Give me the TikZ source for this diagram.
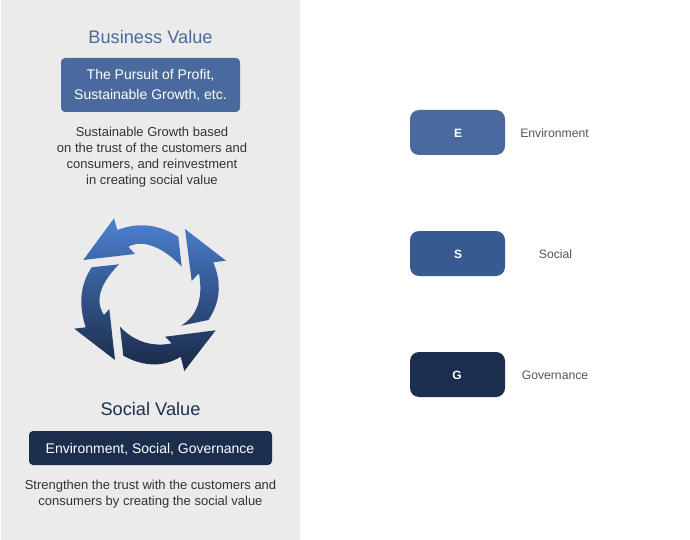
\documentclass[tikz,border=0pt]{standalone}
\usepackage{fontspec}
\setmainfont{Liberation Sans}
\definecolor{panel}{HTML}{EBEBEB}
\definecolor{bizblue}{HTML}{4A6A9D}
\definecolor{socblue}{HTML}{375A90}
\definecolor{navy}{HTML}{1C2E4E}
\definecolor{bodytxt}{HTML}{333333}
\definecolor{labeltxt}{HTML}{555555}
\definecolor{cycletop}{RGB}{76,129,208}
\definecolor{cyclemid}{RGB}{46,88,146}
\definecolor{cyclebot}{RGB}{25,40,70}
\newcommand{\fs}[2]{\fontsize{#1}{#2}\selectfont}
\tikzset{
  x=1pt,y=-1pt,
  every node/.style={inner sep=0pt,outer sep=0pt,align=center},
  headtxt/.style={font=\fs{18.2}{20}},
  lbl/.style={font=\fs{12.2}{14},text=labeltxt},
  letter/.style={font=\fs{12}{14}\bfseries,text=white},
  bodyt/.style={font=\fs{13}{16},text=bodytxt},
  boxt/.style={font=\fs{14}{20.5},text=white},
}
\begin{document}
\begin{tikzpicture}
\useasboundingbox (0,0) rectangle (690,540);
\fill[white] (0,0) rectangle (690,540);
\fill[panel] (1,0) rectangle (300,540);
% cycle of arrows, one gradient over all four
\shade[top color=cycletop,middle color=cyclemid,bottom color=cyclebot]
  % top-left arrow
  (83.3,260) -- (114,218.3) -- (117.3,230)
  .. controls (138.3,222) and (158.7,224.2) .. (178.3,236.7)
  -- (181.7,266.7)
  .. controls (166,250) and (145,238) .. (128.3,246.7)
  -- (135,254) -- cycle
  % right arrow
  (226,260.7) -- (185,229) -- (191.7,281) -- (199,273.3)
  .. controls (203.3,298.3) and (197.3,316) .. (181,325.7)
  -- (208.3,320)
  .. controls (220.3,302.3) and (222,283.3) .. (213.3,262.3) -- cycle
  % bottom arrow
  (215.7,330.3) -- (165,336.7) -- (171.7,343.3)
  .. controls (155,347) and (135,343) .. (120,326.7)
  -- (123.3,355.7)
  .. controls (144,367) and (163.3,367.3) .. (180.7,356.7)
  -- (184.3,371) -- cycle
  % left arrow
  (115,360) -- (109.3,309) -- (104,315)
  .. controls (94.7,300.7) and (99.7,284) .. (119,264.3)
  -- (91.7,267.3)
  .. controls (80.3,284.3) and (78.3,304.3) .. (85.7,327.3)
  -- (74.3,328.7) -- cycle;
% left panel texts
\node[headtxt,text=bizblue] (bizhead) at (150.5,36.5) {Business Value};
\fill[bizblue] [rounded corners=4] (61,58) rectangle (240,112);
\node[boxt] (bizbox) at (150.5,85.5) {The Pursuit of Profit,\\Sustainable Growth, etc.};
\node[bodyt] (bizbody) at (152,157.5) {Sustainable Growth based\\on the trust of the customers and\\consumers, and reinvestment\\in creating social value};
\node[headtxt,text=navy] (sochead) at (150.5,408.5) {Social Value};
\fill[navy] [rounded corners=4] (29,431) rectangle (272,465);
\node[boxt] (socbox) at (150,449.5) {Environment, Social, Governance};
\node[bodyt] (socbody) at (150.5,494.5) {Strengthen the trust with the customers and\\consumers by creating the social value};
% right column
\fill[bizblue] [rounded corners=9] (410,110) rectangle (505,155);
\node[letter] (e) at (458,133) {E};
\node[lbl] (env) at (554.5,133) {Environment};
\fill[socblue] [rounded corners=9] (410,231) rectangle (505,276);
\node[letter] (s) at (458,254) {S};
\node[lbl] (soc) at (555.5,254) {Social};
\fill[navy] [rounded corners=9] (410,352) rectangle (505,397);
\node[letter] (g) at (457,375) {G};
\node[lbl] (gov) at (555,375) {Governance};
\end{tikzpicture}
\end{document}
